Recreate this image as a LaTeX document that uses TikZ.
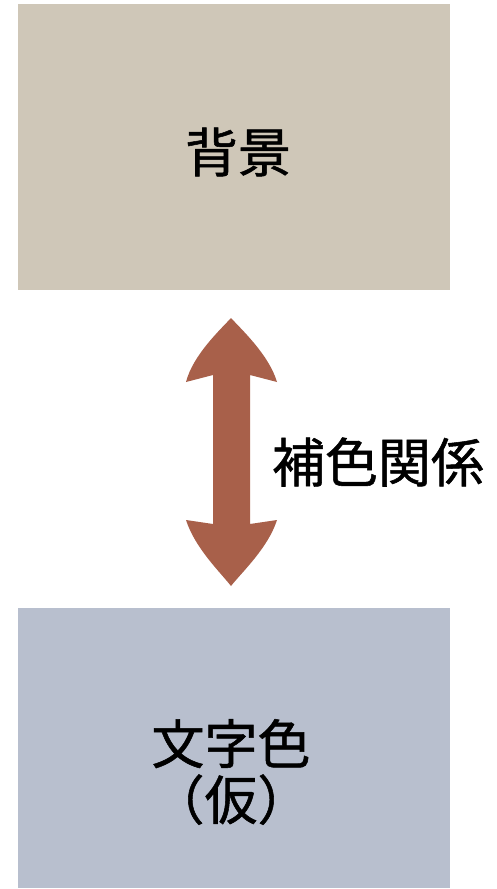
\documentclass[tikz,border=0pt]{standalone}
\usepackage{fontspec}
\newfontfamily\cjk[FakeBold=1]{Noto Sans CJK JP}
\definecolor{topbox}{HTML}{CFC7B8}
\definecolor{botbox}{HTML}{B8BFCE}
\definecolor{arrowc}{HTML}{A8604A}
\begin{document}
\begin{tikzpicture}[x=1pt,y=-1pt,
  lbl/.style={font=\cjk\fontsize{53}{56}\selectfont, text=black, align=center, inner sep=0pt}]
\useasboundingbox (0,0) rectangle (496,889);
\fill[white] (0,0) rectangle (496,889);
\fill[topbox] (18,4) rectangle (450,290);
\fill[botbox] (18,608) rectangle (450,888);
\node[lbl] (bg) at (238,152) {背景};
\node[lbl] (fg) at (231,772) {文字色\\（仮）};
\fill[arrowc] (231,318)
  .. controls (220,330) and (193,355) .. (186,382)
  -- (213,375) -- (213,524) -- (186,520)
  .. controls (195,548) and (220,572) .. (231,586)
  .. controls (242,572) and (268,548) .. (277,520)
  -- (250,524) -- (250,375) -- (277,382)
  .. controls (269,355) and (242,330) .. (231,318) -- cycle;
\node[lbl] (rel) at (378,462) {補色関係};
\end{tikzpicture}
\end{document}
